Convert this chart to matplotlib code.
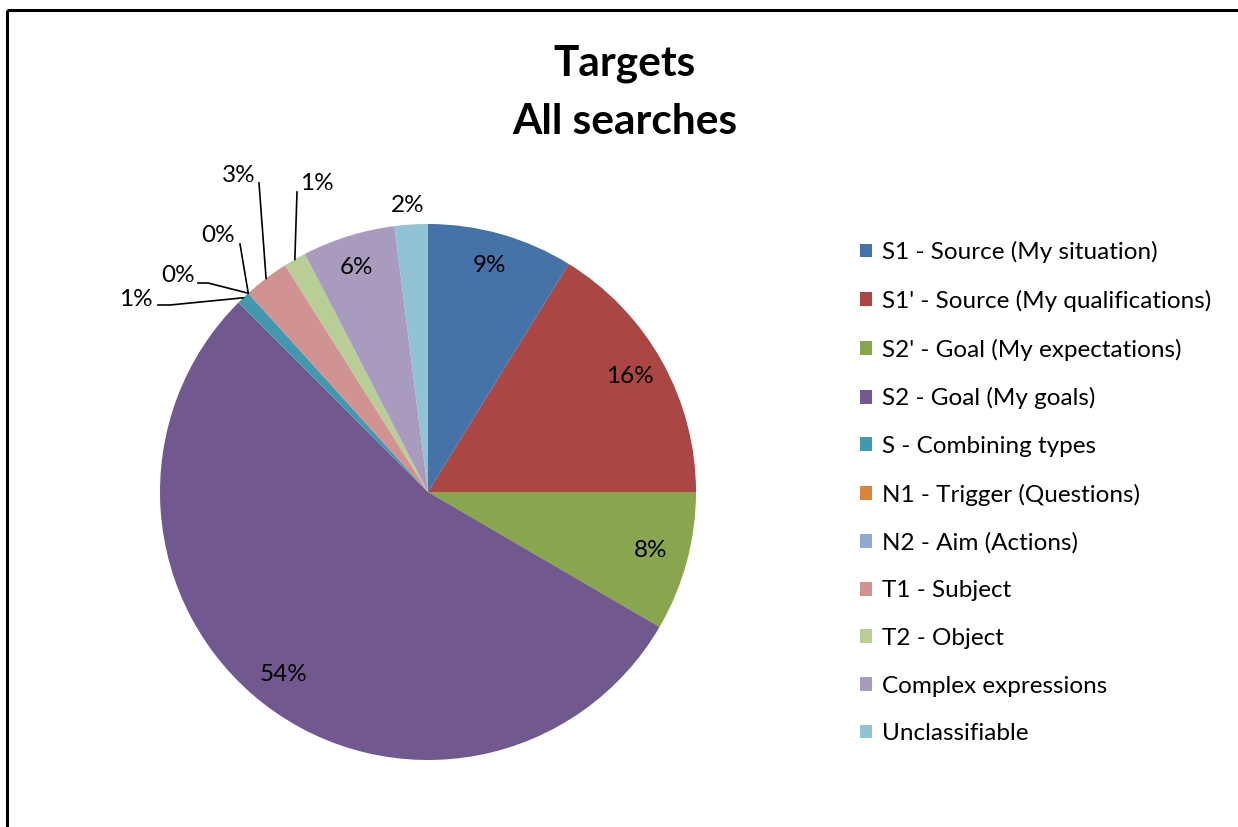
import matplotlib
matplotlib.use("Agg")
import matplotlib.pyplot as plt
from matplotlib.patches import Patch
import numpy as np

plt.rcParams['font.family'] = ['Lato', 'DejaVu Sans']

# data (percent of all searches)
categories = ["S1 - Source (My situation)", "S1' - Source (My qualifications)",
              "S2' - Goal (My expectations)", "S2 - Goal (My goals)",
              "S - Combining types", "N1 - Trigger (Questions)", "N2 - Aim (Actions)",
              "T1 - Subject", "T2 - Object", "Complex expressions", "Unclassifiable"]
values = [8.8, 16.2, 8.4, 54.1, 0.8, 0.0, 0.0, 2.75, 1.35, 5.6, 2.0]
labels = ["9%", "16%", "8%", "54%", "1%", "0%", "0%", "3%", "1%", "6%", "2%"]
colors = ['#4572A7', '#AA4643', '#89A54E', '#71588F', '#4198AF', '#DB843D',
          '#93A9CF', '#D19392', '#B9CD96', '#A99BBD', '#92C3D4']

W, H = 1238, 827
fig = plt.figure(figsize=(W / 100, H / 100), dpi=100)
ax = fig.add_axes([0, 0, 1, 1])

cx, cy, r = 428, 492, 268
# y axis is inverted, so "counterclock" in data space looks clockwise on screen
wedges, _ = ax.pie(values, colors=colors, startangle=-90, counterclock=True,
                   center=(cx, cy), radius=r, frame=True,
                   wedgeprops=dict(linewidth=0))
ax.set_xlim(0, W)
ax.set_ylim(H, 0)
ax.set_aspect('equal')
ax.axis('off')

fs = 17.5
# inside labels
inside = {0, 1, 2, 3, 9}
for i, w in enumerate(wedges):
    mid = np.deg2rad((w.theta1 + w.theta2) / 2)
    if i in inside:
        rr = 0.87 * r
        ax.text(cx + rr * np.cos(mid) - 2, cy + rr * np.sin(mid) - 2, labels[i],
                ha='center', va='center', fontsize=fs, color='black')

# outside labels: text position, elbow points of the leader line
outside = {
    4: ((136, 300), [(158, 305), (170, 305)]),
    5: ((178, 276), [(198, 283), (208, 283)]),
    6: ((218, 236), [(240, 244)]),
    7: ((239, 175), [(259, 183)]),
    8: ((317, 184), [(297, 192)]),
    10: ((408, 205), None),
}
for i, (pos, elbow) in outside.items():
    w = wedges[i]
    ax.text(pos[0], pos[1], labels[i], ha='center', va='center', fontsize=fs)
    if elbow:
        mid = np.deg2rad((w.theta1 + w.theta2) / 2)
        ex, ey = cx + r * np.cos(mid), cy + r * np.sin(mid)
        xs = [p[0] for p in elbow] + [ex]
        ys = [p[1] for p in elbow] + [ey]
        ax.plot(xs, ys, color='black', lw=1.2)

ax.text(625, 64, "Targets", ha='center', va='center', fontsize=30.5, fontweight='bold')
ax.text(625, 122, "All searches", ha='center', va='center', fontsize=30.5, fontweight='bold')

handles = [Patch(facecolor=c, edgecolor='none') for c in colors]
ax.legend(handles, categories, loc='upper left', bbox_to_anchor=(860 / W, 1 - 241 / H),
          frameon=False, fontsize=fs, handlelength=0.5, handleheight=0.5,
          handletextpad=0.42, labelspacing=1.095, borderaxespad=0, borderpad=0)

# chart border (cropped on right and bottom in the reference)
ax.plot([6.5, 6.5], [10, H], color='black', lw=2.2, solid_capstyle='butt')
ax.plot([6.5, W], [10, 10], color='black', lw=2.2, solid_capstyle='butt')

fig.savefig("out.png", dpi=100)
